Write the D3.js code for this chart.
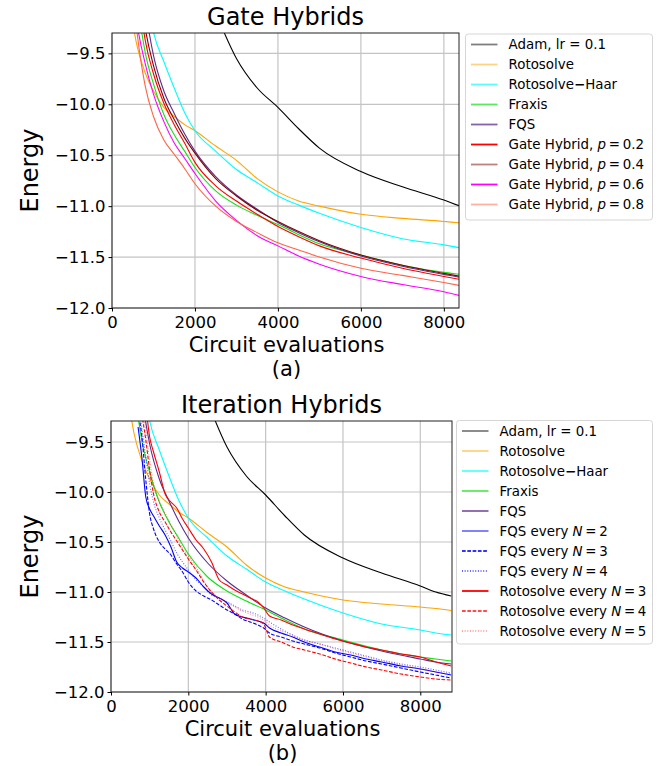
<!DOCTYPE html>
<html>
<head>
<meta charset="utf-8">
<script src="https://cdn.jsdelivr.net/npm/d3@7"></script>
<style>
body { margin: 0; background: #fff; }
text { font-family: "DejaVu Sans", sans-serif; fill: #000; }
</style>
</head>
<body>
<div id="chart"></div>
<script>
// Circuit evaluations shared by the base optimisers and the gate hybrids
var evals = [400, 600, 800, 1000, 1250, 1500, 1750, 2000, 2500, 3000, 3500, 4000, 4500, 5000, 6000, 7000, 8000, 8400, 8800];

// base optimisers (same runs in both panels)
var adam      = [null, null, null, null, null, null, null, null, -9.1, -9.55, -9.84, -10.03, -10.24, -10.43, -10.66, -10.81, -10.94, -11.0, -11.04];
var rotosolve = [-8.95, -9.42, -9.69, -9.87, -10.03, -10.12, -10.2, -10.26, -10.41, -10.55, -10.73, -10.86, -10.95, -11.0, -11.08, -11.12, -11.15, -11.165, -11.185];
var rotoHaar  = [null, -8.3, -8.8, -9.29, -9.58, -9.84, -10.08, -10.26, -10.46, -10.64, -10.77, -10.9, -10.99, -11.07, -11.21, -11.32, -11.38, -11.41, -11.43];
var fraxis    = [-8.2, -8.95, -9.49, -9.8, -10.1, -10.3, -10.46, -10.62, -10.85, -10.99, -11.09, -11.18, -11.28, -11.37, -11.48, -11.58, -11.65, -11.67, -11.69];
var fqs       = [-7.7, -8.4, -9.05, -9.52, -9.87, -10.09, -10.29, -10.46, -10.71, -10.89, -11.03, -11.16, -11.26, -11.35, -11.49, -11.59, -11.67, -11.7, -11.72];

// gate hybrids, p = 0.2 / 0.4 / 0.6 / 0.8
var gateP2 = [-8.0, -8.75, -9.37, -9.7, -9.99, -10.2, -10.38, -10.57, -10.8, -10.95, -11.08, -11.2, -11.3, -11.39, -11.51, -11.61, -11.69, -11.72, null];
var gateP4 = [-7.9, -8.6, -9.25, -9.62, -9.94, -10.15, -10.33, -10.48, -10.73, -10.9, -11.04, -11.15, -11.25, -11.34, -11.48, -11.58, -11.66, -11.69, null];
var gateP6 = [-8.5, -9.2, -9.6, -9.9, -10.17, -10.38, -10.53, -10.68, -10.95, -11.14, -11.29, -11.39, -11.49, -11.57, -11.69, -11.77, -11.84, -11.88, null];
var gateP8 = [-8.4, -9.28, -9.82, -10.12, -10.35, -10.49, -10.63, -10.78, -11.0, -11.15, -11.26, -11.36, -11.43, -11.5, -11.61, -11.68, -11.75, -11.78, null];

// Circuit evaluations for the iteration hybrids
var evalsIter = [700, 800, 900, 1000, 1100, 1250, 1400, 1550, 1700, 1850, 2000, 2200, 2400, 2600, 2800, 3000, 3200, 3400, 3600, 3800, 3950, 4100, 4400, 4700, 5000, 5400, 5800, 6200, 6600, 7000, 7500, 8000, 8400, 8800];

var fqsN2  = [-9.35, -9.66, -10.05, -10.17, -10.24, -10.34, -10.43, -10.55, -10.7, -10.76, -10.8, -10.86, -10.95, -11.02, -11.06, -11.11, -11.22, -11.25, -11.27, -11.29, -11.31, -11.36, -11.41, -11.45, -11.5, -11.55, -11.6, -11.63, -11.67, -11.7, -11.74, -11.77, -11.8, -11.83];
var fqsN3  = [-9.2, -9.45, -9.88, -10.22, -10.37, -10.5, -10.57, -10.63, -10.72, -10.8, -10.9, -10.99, -11.04, -11.08, -11.13, -11.18, -11.22, -11.27, -11.3, -11.33, -11.36, -11.41, -11.45, -11.49, -11.52, -11.56, -11.61, -11.65, -11.69, -11.72, -11.76, -11.8, -11.83, -11.86];
var fqsN4  = [-9.1, -9.37, -9.65, -9.92, -10.1, -10.26, -10.38, -10.49, -10.61, -10.7, -10.78, -10.88, -10.95, -11.03, -11.06, -11.1, -11.14, -11.18, -11.2, -11.23, -11.26, -11.3, -11.37, -11.43, -11.48, -11.52, -11.56, -11.6, -11.64, -11.68, -11.72, -11.75, -11.78, -11.81];
var rotoN3 = [-8.7, -8.95, -9.15, -9.45, -9.6, -9.8, -10.02, -10.1, -10.16, -10.27, -10.36, -10.48, -10.57, -10.7, -10.88, -10.93, -10.98, -11.02, -11.06, -11.1, -11.16, -11.24, -11.28, -11.33, -11.37, -11.42, -11.47, -11.51, -11.55, -11.58, -11.62, -11.65, -11.7, -11.74];
var rotoN4 = [-8.9, -9.22, -9.48, -9.78, -10.02, -10.2, -10.3, -10.4, -10.49, -10.58, -10.67, -10.78, -10.9, -11.0, -11.08, -11.14, -11.2, -11.25, -11.27, -11.29, -11.32, -11.45, -11.5, -11.55, -11.58, -11.62, -11.67, -11.71, -11.75, -11.78, -11.82, -11.85, -11.87, -11.88];
var rotoN5 = [-8.8, -9.1, -9.38, -9.68, -9.92, -10.1, -10.21, -10.33, -10.44, -10.56, -10.64, -10.75, -10.89, -11.0, -11.06, -11.1, -11.15, -11.19, -11.22, -11.25, -11.28, -11.33, -11.39, -11.44, -11.48, -11.52, -11.57, -11.61, -11.65, -11.69, -11.73, -11.77, -11.8, -11.82];

// tick labels
var xTicks = [0, 2000, 4000, 6000, 8000];
var yTicks = [-12, -11.5, -11, -10.5, -10, -9.5];

// legend names (thin spaces around "=" like mathtext)
var baseNames = ["Adam, lr = 0.1", "Rotosolve", "Rotosolve\u2212Haar", "Fraxis", "FQS"];
var gateNames = ["Gate Hybrid, p\u2009=\u20090.2", "Gate Hybrid, p\u2009=\u20090.4",
                 "Gate Hybrid, p\u2009=\u20090.6", "Gate Hybrid, p\u2009=\u20090.8"];
var iterNames = ["FQS every N\u2009=\u20092", "FQS every N\u2009=\u20093", "FQS every N\u2009=\u20094",
                 "Rotosolve every N\u2009=\u20093", "Rotosolve every N\u2009=\u20094", "Rotosolve every N\u2009=\u20095"];

var svg = d3.select("#chart")
  .append("svg")
  .attr("width", 672)
  .attr("height", 766);

var baseSeries = [
  {name: baseNames[0], ys: adam, color: "#000000", legAlpha: 0.5},
  {name: baseNames[1], ys: rotosolve, color: "#ffa500", legAlpha: 0.5},
  {name: baseNames[2], ys: rotoHaar, color: "#00ffff", legAlpha: 0.65},
  {name: baseNames[3], ys: fraxis, color: "#14e014", legAlpha: 0.7},
  {name: baseNames[4], ys: fqs, color: "#5b2c8f", legAlpha: 0.75}
];
baseSeries.forEach(function(s) { s.xs = evals; });

var gateSeries = [
  {name: gateNames[0], ys: gateP2, color: "#ff0000", legAlpha: 1},
  {name: gateNames[1], ys: gateP4, color: "#800000", legAlpha: 0.5},
  {name: gateNames[2], ys: gateP6, color: "#ff00ff", legAlpha: 1},
  {name: gateNames[3], ys: gateP8, color: "#ff6347", legAlpha: 0.5}
].map(function(s) { s.xs = evals; return s; });

var iterSeries = [
  {name: iterNames[0], ys: fqsN2, color: "#0000ff", legAlpha: 0.55},
  {name: iterNames[1], ys: fqsN3, color: "#0000ff", dash: "3.7,1.6", legAlpha: 0.8},
  {name: iterNames[2], ys: fqsN4, color: "#0000ff", dash: "1,1.65", alpha: 0.6, legAlpha: 0.6},
  {name: iterNames[3], ys: rotoN3, color: "#ff0000", legAlpha: 1},
  {name: iterNames[4], ys: rotoN4, color: "#ff0000", dash: "3.7,1.6", legAlpha: 0.7},
  {name: iterNames[5], ys: rotoN5, color: "#ff0000", dash: "1,1.65", alpha: 0.45, legAlpha: 0.35}
].map(function(s) { s.xs = evalsIter; return s; });

function drawPanel(p) {
  var w = p.right - p.left;
  var h = p.bottom - p.top;

  var xScale = d3.scaleLinear().domain([0, p.xMax]).range([0, w]);
  var yScale = d3.scaleLinear().domain([-12, p.yMax]).range([h, 0]);

  var g = svg.append("g")
    .attr("transform", `translate(${p.left}, ${p.top})`);

  g.append("clipPath")
    .attr("id", "clip" + p.id)
    .append("rect")
    .attr("width", w)
    .attr("height", h);

  // grid
  g.append("g").selectAll("line")
    .data(xTicks)
    .enter()
    .append("line")
    .attr("x1", d => xScale(d)).attr("x2", d => xScale(d))
    .attr("y1", 0).attr("y2", h)
    .attr("stroke", "#c4c4c4").attr("stroke-width", 1.2);
  g.append("g").selectAll("line")
    .data(yTicks)
    .enter()
    .append("line")
    .attr("y1", d => yScale(d)).attr("y2", d => yScale(d))
    .attr("x1", 0).attr("x2", w)
    .attr("stroke", "#c4c4c4").attr("stroke-width", 1.2);

  // curves
  var lines = g.append("g").attr("clip-path", `url(#clip${p.id})`);
  p.series.forEach(function(s) {
    var pts = s.xs.map((x, i) => [x, s.ys[i]]);
    var line = d3.line()
      .defined(d => d[1] !== null)
      .x(d => xScale(d[0]))
      .y(d => yScale(d[1]))
      .curve(d3.curveMonotoneX);
    lines.append("path")
      .datum(pts)
      .attr("d", line)
      .attr("fill", "none")
      .attr("stroke", s.color)
      .attr("stroke-opacity", s.alpha || 1)
      .attr("stroke-width", 1.1)
      .attr("stroke-dasharray", s.dash || null);
  });

  // frame
  g.append("rect")
    .attr("width", w)
    .attr("height", h)
    .attr("fill", "none")
    .attr("stroke", "#222")
    .attr("stroke-width", 1);

  // axes
  var bottomAxis = d3.axisBottom(xScale).tickValues(xTicks).tickFormat(d3.format("d"))
    .tickSize(3.5).tickPadding(4.5);
  var leftAxis = d3.axisLeft(yScale).tickValues(yTicks).tickFormat(d3.format(".1f"))
    .tickSize(3.5).tickPadding(3);

  var xa = g.append("g")
    .attr("transform", `translate(0, ${h})`)
    .call(bottomAxis);
  var ya = g.append("g").call(leftAxis);
  [xa, ya].forEach(function(a) {
    a.select(".domain").remove();
    a.selectAll("text").style("font-size", "16.5px").style("font-family", "DejaVu Sans").attr("fill", "#000");
    a.selectAll("line").attr("stroke", "#000");
  });

  // titles and labels
  svg.append("text")
    .attr("x", (p.left + p.right) / 2)
    .attr("y", p.top - 8)
    .attr("text-anchor", "middle")
    .style("font-size", "24px")
    .text(p.title);

  svg.append("text")
    .attr("transform", `translate(38, ${(p.top + p.bottom) / 2}) rotate(-90)`)
    .attr("text-anchor", "middle")
    .style("font-size", "24px")
    .text("Energy");

  svg.append("text")
    .attr("x", (p.left + p.right) / 2 + 1)
    .attr("y", p.bottom + 44)
    .attr("text-anchor", "middle")
    .style("font-size", "21px")
    .text("Circuit evaluations");

  svg.append("text")
    .attr("x", (p.left + p.right) / 2 + 1)
    .attr("y", p.bottom + 68)
    .attr("text-anchor", "middle")
    .style("font-size", "21px")
    .text(p.tag);

  // legend
  var L = p.legend;
  var leg = svg.append("g");
  leg.append("rect")
    .attr("x", L.x).attr("y", L.y)
    .attr("width", L.w).attr("height", L.h)
    .attr("rx", 3)
    .attr("fill", "#fff")
    .attr("stroke", "#d6d6d6");

  p.series.forEach(function(s, i) {
    var cy = L.y + 10.5 + i * 20;
    leg.append("line")
      .attr("x1", L.x + 5.5).attr("x2", L.x + 32)
      .attr("y1", cy).attr("y2", cy)
      .attr("stroke", s.color)
      .attr("stroke-opacity", s.legAlpha)
      .attr("stroke-width", 1.8)
      .attr("stroke-dasharray", s.dash || null);

    var t = leg.append("text")
      .attr("x", L.x + 43)
      .attr("y", cy + 4.8)
      .style("font-size", "13.4px");
    // italic math letters (p, N) and the heavy dash in Rotosolve-Haar
    s.name.split(/(\b[pN]\b|\u2212)/).forEach(function(part) {
      if (part === "") return;
      var span = t.append("tspan").text(part);
      if (part === "p" || part === "N") span.style("font-style", "italic");
      if (part === "\u2212") span.style("font-weight", "bold");
    });
  });
}

drawPanel({
  id: "a", left: 112, right: 459, top: 33, bottom: 308,
  xMax: 8365, yMax: -9.3,
  title: "Gate Hybrids", tag: "(a)",
  series: baseSeries.concat(gateSeries),
  legend: {x: 465.5, y: 34, w: 187, h: 186}
});

drawPanel({
  id: "b", left: 111, right: 452, top: 421, bottom: 692,
  xMax: 8820, yMax: -9.29,
  title: "Iteration Hybrids", tag: "(b)",
  series: baseSeries.concat(iterSeries),
  legend: {x: 456.5, y: 420.5, w: 196, h: 223.5}
});
</script>
</body>
</html>
